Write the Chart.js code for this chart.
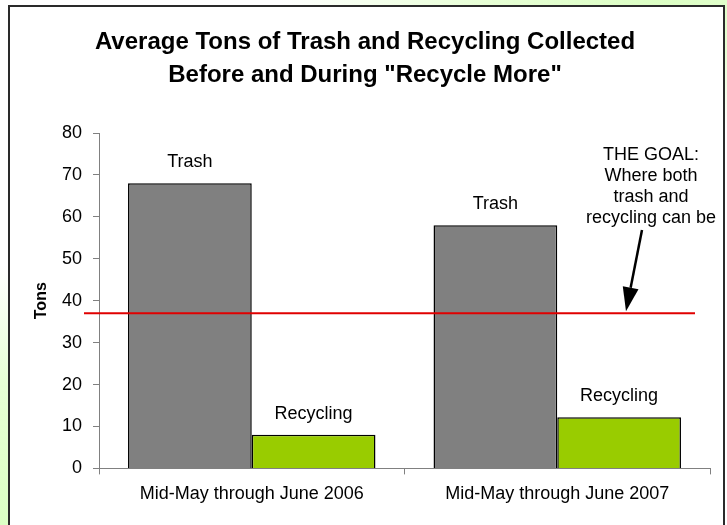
<!DOCTYPE html>
<html><head><meta charset="utf-8">
<script src="https://cdn.jsdelivr.net/npm/chart.js@4"></script>
<style>
html,body{margin:0;padding:0;width:727px;height:525px;overflow:hidden;}
body{background:
 radial-gradient(ellipse 380px 130px at 660px 0px, #dcffc4 0%, rgba(228,255,208,0.9) 45%, rgba(255,255,255,0) 100%),
 radial-gradient(ellipse 110px 260px at 0px 525px, #dcffc4 0%, rgba(228,255,208,0.9) 55%, rgba(255,255,255,0) 100%),
 #fff;}
#frame{position:absolute;left:8px;top:5px;width:717px;height:540px;background:#fff;border:2px solid #2a2a2a;box-sizing:border-box;}
canvas{position:absolute;left:0;top:0;}
</style></head>
<body>
<div id="frame"></div>
<canvas id="c" width="727" height="525"></canvas>
<script>
const categories = ['Mid-May through June 2006', 'Mid-May through June 2007'];
const seriesNames = ['Trash', 'Recycling'];
const trashTons = [68, 58];
const recyclingTons = [8, 12.2];
const goalTons = 37;
const yTickValues = [0, 10, 20, 30, 40, 50, 60, 70, 80];
const titleLines = ['Average Tons of Trash and Recycling Collected', 'Before and During "Recycle More"'];
const goalNote = ['THE GOAL:', 'Where both', 'trash and', 'recycling can be'];

const FONT = "'Liberation Sans', Arial, sans-serif";
Chart.defaults.font.family = FONT;
Chart.defaults.color = '#000';

const barLabels = {
  id: 'barLabels',
  afterDatasetsDraw(chart) {
    const ctx = chart.ctx;
    ctx.save();
    ctx.font = '18px ' + FONT;
    ctx.fillStyle = '#000';
    ctx.textAlign = 'center';
    ctx.textBaseline = 'middle';
    chart.data.datasets.forEach((ds, i) => {
      chart.getDatasetMeta(i).data.forEach(bar => {
        ctx.fillText(ds.label, bar.x, bar.y - 21);
      });
    });
    ctx.restore();
  }
};

const goalPlugin = {
  id: 'goalPlugin',
  afterDatasetsDraw(chart) {
    const ctx = chart.ctx;
    const a = chart.chartArea;
    const y = chart.scales.y.getPixelForValue(goalTons);
    ctx.save();
    ctx.strokeStyle = '#e00000';
    ctx.lineWidth = 2;
    ctx.beginPath();
    ctx.moveTo(a.left - 15, y);
    ctx.lineTo(a.right - 15, y);
    ctx.stroke();
    ctx.font = '18px ' + FONT;
    ctx.fillStyle = '#000';
    ctx.textAlign = 'center';
    ctx.textBaseline = 'middle';
    goalNote.forEach((t, i) => ctx.fillText(t, a.right - 59, a.top + 22 + i * 21));
    const tx = a.right - 68, ty = a.top + 97;
    const hx = a.right - 84, hy = y - 2;
    const dx = hx - tx, dy = hy - ty, L = Math.hypot(dx, dy);
    const ux = dx / L, uy = dy / L;
    const bx = hx - ux * 24, by = hy - uy * 24;
    const nx = -uy, ny = ux;
    ctx.strokeStyle = '#000';
    ctx.lineWidth = 2.5;
    ctx.beginPath();
    ctx.moveTo(tx, ty);
    ctx.lineTo(bx, by);
    ctx.stroke();
    ctx.fillStyle = '#000';
    ctx.beginPath();
    ctx.moveTo(hx, hy);
    ctx.lineTo(bx + nx * 8, by + ny * 8);
    ctx.lineTo(bx - nx * 8, by - ny * 8);
    ctx.closePath();
    ctx.fill();
    ctx.restore();
  }
};

new Chart(document.getElementById('c'), {
  type: 'bar',
  data: {
    labels: categories,
    datasets: [
      { label: seriesNames[0], data: trashTons, backgroundColor: '#808080', borderColor: '#000', borderWidth: 1.5 },
      { label: seriesNames[1], data: recyclingTons, backgroundColor: '#99cc00', borderColor: '#000', borderWidth: 1.5 }
    ]
  },
  options: {
    responsive: false,
    animation: false,
    devicePixelRatio: 1,
    categoryPercentage: 0.81,
    barPercentage: 1.0,
    layout: { padding: { left: 20, right: 17, top: 0, bottom: 11 } },
    plugins: {
      legend: { display: false },
      tooltip: { enabled: false },
      title: {
        display: true,
        text: titleLines,
        color: '#000',
        font: { size: 24, weight: 'bold', lineHeight: 1.375 },
        padding: { top: 25.5, bottom: 41.5 }
      }
    },
    scales: {
      x: {
        grid: { drawOnChartArea: false, drawTicks: true, tickLength: 6, color: '#808080' },
        border: { color: '#808080', width: 1 },
        ticks: { font: { size: 18 }, padding: 9, color: '#000', maxRotation: 0 }
      },
      y: {
        min: yTickValues[0],
        max: yTickValues[yTickValues.length - 1],
        afterBuildTicks(scale) { scale.ticks = yTickValues.map(v => ({ value: v })); },
        afterFit(scale) { scale.width = 79; },
        grid: { drawOnChartArea: false, drawTicks: true, tickLength: 6, color: '#808080' },
        border: { color: '#808080', width: 1 },
        ticks: { font: { size: 18 }, padding: 11, color: '#000' },
        title: { display: true, text: 'Tons', color: '#000', font: { size: 16, weight: 'bold' }, padding: { top: 12, bottom: 0 } }
      }
    }
  },
  plugins: [barLabels, goalPlugin]
});
</script>
</body></html>
